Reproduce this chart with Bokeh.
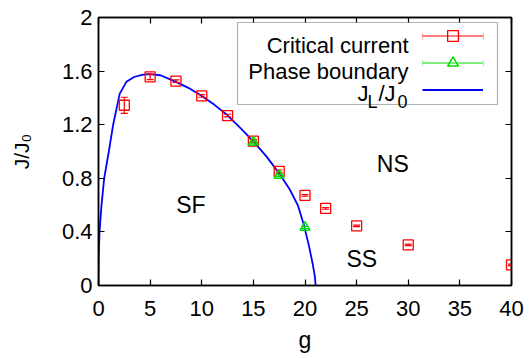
import math
from bokeh.plotting import figure
from bokeh.models import (Range1d, LinearAxis, FixedTicker, NumeralTickFormatter,
                          Label, BoxAnnotation, Legend, LegendItem)
from bokeh.embed import file_html
from bokeh.resources import INLINE

# ---------------- data ----------------
cc_g = [2.5, 5, 7.5, 10, 12.5, 15, 17.5, 20, 22, 25, 30, 40]
cc_j = [1.345, 1.557, 1.525, 1.415, 1.268, 1.078, 0.852, 0.672, 0.575, 0.445, 0.303, 0.154]
cc_err = [0.06, 0.02, 0.01, 0.01, 0.01, 0.01, 0.01, 0.006, 0.006, 0.006, 0.006, 0.006]

pb_g = [15, 17.5, 20]
pb_j = [1.07, 0.822, 0.433]
pb_err = [0.008, 0.008, 0.008]

jl_g = [0, 0.02, 0.1, 0.29, 0.55, 1.0, 1.42, 2.05, 2.7, 3.45, 4.2, 4.9, 6.0, 7.5,
        8.7, 9.9, 11.2, 12.5, 13.8, 15.0, 16.3, 17.5, 18.5, 19.3, 19.9, 20.4,
        20.75, 20.95, 21.03]
jl_j = [0, 0.2, 0.4, 0.6, 0.8, 1.0, 1.2, 1.43, 1.52, 1.556, 1.572, 1.577, 1.569, 1.52,
        1.475, 1.42, 1.35, 1.27, 1.17, 1.075, 0.96, 0.836, 0.72, 0.6, 0.45, 0.29,
        0.16, 0.07, 0.0]

x_ticks = [0, 5, 10, 15, 20, 25, 30, 35, 40]
y_ticks = [0, 0.4, 0.8, 1.2, 1.6, 2.0]

legend_labels = ["Critical current", "Phase boundary"]
region_labels = [("SF", 8.95, 0.60), ("NS", 28.5, 0.907), ("SS", 25.5, 0.196)]

# ---------------- layout ----------------
W, H = 532, 358
FL, FR, FT, FB = 98, 511, 17, 285      # frame edges in px
X0, X1, Y0, Y1 = 0, 40, 0, 2

def dx(px):
    return X0 + (px - FL) * (X1 - X0) / (FR - FL)

def dy(py):
    return Y0 + (FB - py) * (Y1 - Y0) / (FB - FT)

FONT = "Liberation Sans"
RED = "#ff0000"
GREEN = "#00dd00"
BLUE = "#0000ff"

p = figure(width=W, height=H, x_range=Range1d(X0, X1), y_range=Range1d(Y0, Y1),
           output_backend="svg", toolbar_location=None,
           min_border_left=FL, min_border_right=W - FR,
           min_border_top=FT, min_border_bottom=H - FB,
           x_axis_location=None, y_axis_location=None)
p.grid.visible = False
p.outline_line_color = "black"
p.outline_line_width = 1.5
p.background_fill_color = "white"
p.border_fill_color = "white"

def make_axis(ticks, fmt=None):
    ax = LinearAxis(ticker=FixedTicker(ticks=ticks))
    ax.axis_line_color = "black"
    ax.axis_line_width = 1.5
    ax.major_tick_in = 6
    ax.major_tick_out = 0
    ax.major_tick_line_color = "black"
    ax.major_tick_line_width = 1.2
    ax.minor_tick_line_color = None
    ax.major_label_text_font = FONT
    ax.major_label_text_font_size = "22px"
    ax.major_label_text_color = "black"
    if fmt is not None:
        ax.formatter = fmt
    return ax

def mirror_axis(ticks):
    # ticks only (drawn as minor ticks so that no tick labels exist)
    ax = LinearAxis(ticker=FixedTicker(ticks=[], minor_ticks=ticks))
    ax.axis_line_color = "black"
    ax.axis_line_width = 1.5
    ax.major_tick_line_color = None
    ax.minor_tick_in = 6
    ax.minor_tick_out = 0
    ax.minor_tick_line_color = "black"
    ax.minor_tick_line_width = 1.2
    return ax

xb = make_axis(x_ticks)
xb.major_label_standoff = 15
xb.axis_label = "g"
xb.axis_label_text_font = FONT
xb.axis_label_text_font_size = "23px"
xb.axis_label_text_font_style = "normal"
xb.axis_label_text_color = "black"
xb.axis_label_standoff = 8
p.add_layout(xb, "below")

yl = make_axis(y_ticks, fmt=NumeralTickFormatter(format="0.[0]"))
yl.major_label_standoff = 6
yl.axis_label = "J/J\u2080"
yl.axis_label_text_font = FONT
yl.axis_label_text_font_size = "21px"
yl.axis_label_text_font_style = "normal"
yl.axis_label_text_color = "black"
yl.axis_label_standoff = 26
p.add_layout(yl, "left")

p.add_layout(mirror_axis(x_ticks), "above")
p.add_layout(mirror_axis(y_ticks), "right")

# ---------------- data marks ----------------
cc_lo = [j - e for j, e in zip(cc_j, cc_err)]
cc_hi = [j + e for j, e in zip(cc_j, cc_err)]
pb_lo = [j - e for j, e in zip(pb_j, pb_err)]
pb_hi = [j + e for j, e in zip(pb_j, pb_err)]

jl_r = p.line(jl_g, jl_j, line_color=BLUE, line_width=1.8)

cc_bar = p.segment(x0=cc_g, y0=cc_lo, x1=cc_g, y1=cc_hi, line_color=RED, line_width=1.2)
p.scatter(cc_g, cc_lo, marker="dash", size=7, line_color=RED, line_width=1.2)
p.scatter(cc_g, cc_hi, marker="dash", size=7, line_color=RED, line_width=1.2)
cc_pt = p.scatter(cc_g, cc_j, marker="square", size=10, fill_color=None,
                  line_color=RED, line_width=1.3)

pb_bar = p.segment(x0=pb_g, y0=pb_lo, x1=pb_g, y1=pb_hi, line_color=GREEN, line_width=1.2)
p.scatter(pb_g, pb_lo, marker="dash", size=7, line_color=GREEN, line_width=1.2)
p.scatter(pb_g, pb_hi, marker="dash", size=7, line_color=GREEN, line_width=1.2)
pb_pt = p.scatter(pb_g, pb_j, marker="triangle", size=10, fill_color=None,
                  line_color=GREEN, line_width=1.5)

# ---------------- region labels ----------------
for txt, gx, jy in region_labels:
    p.add_layout(Label(x=gx, y=jy, text=txt, text_align="center", text_baseline="middle",
                       text_font=FONT, text_font_size="23px", text_color="black"))

# ---------------- legend ----------------
p.add_layout(BoxAnnotation(left=dx(237), right=dx(497), top=dy(22), bottom=dy(104),
                           fill_color="white", fill_alpha=1.0,
                           line_color="black", line_width=1.2, level="overlay"))

legend = Legend(items=[LegendItem(label=" ", renderers=[cc_bar, cc_pt]),
                       LegendItem(label=" ", renderers=[pb_bar, pb_pt]),
                       LegendItem(label=" ", renderers=[jl_r])],
                location=(422 - FL, FB - 103), orientation="vertical",
                glyph_width=61, glyph_height=27, label_height=27, label_width=0,
                label_standoff=0, padding=0, spacing=0, margin=0,
                border_line_color=None, background_fill_alpha=0,
                label_text_font_size="1px")
p.add_layout(legend)

row_base = [45, 71]
for txt, by in zip(legend_labels, row_base):
    p.add_layout(Label(x=dx(408), y=dy(by), text=txt, text_align="right",
                       text_baseline="alphabetic", text_font=FONT,
                       text_font_size="22px", text_color="black", level="overlay"))

# J_L / J_0 composed of pieces
pieces = [("J", 357, 93, "22px"), ("L", 367, 101, "18px"), ("/J", 378, 93, "22px"),
          ("0", 397, 101, "18px")]
for txt, sx, sy, fs in pieces:
    p.add_layout(Label(x=dx(sx), y=dy(sy), text=txt, text_align="left",
                       text_baseline="alphabetic", text_font=FONT,
                       text_font_size=fs, text_color="black", level="overlay"))

# error bar end ticks in the legend samples
for cy, col in [(36, RED), (62.5, GREEN)]:
    for ex in (422, 483):
        p.add_layout(BoxAnnotation(left=dx(ex), right=dx(ex), top=dy(cy - 3.5),
                                   bottom=dy(cy + 3.5), fill_alpha=0,
                                   line_color=col, line_width=1.2, level="overlay"))

open("out.html", "w").write(file_html(p, INLINE))
